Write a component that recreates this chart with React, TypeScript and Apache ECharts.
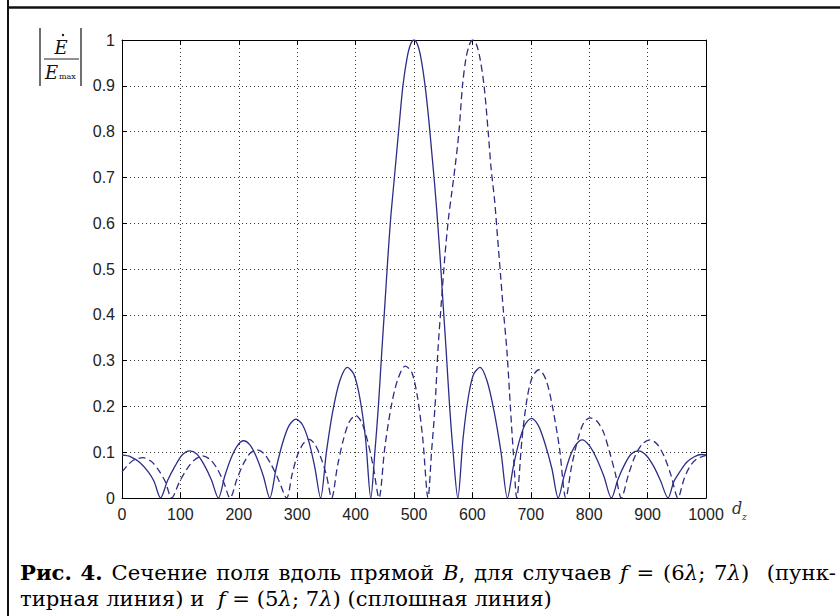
import React, { useEffect, useRef } from "react";
import * as echarts from "echarts";

// x tick values (d_z) and y tick values (|E/Emax|)
const xMin = 0;
const xMax = 1000;
const xStep = 100;
const yMin = 0;
const yMax = 1;
const yStep = 0.1;

// Solid line: f = (5λ; 7λ)
const solidData: [number, number][] = [
  [0, 0.094], [15, 0.09], [30, 0.078], [45, 0.057], [55, 0.036], [66, 0],
  [78, 0.038], [91, 0.07], [103, 0.094], [116, 0.103], [128, 0.096], [140, 0.074], [153, 0.04], [165, 0],
  [176, 0.048], [187, 0.088], [198, 0.115], [208, 0.125], [219, 0.116], [230, 0.09], [242, 0.048], [253, 0],
  [264, 0.065], [275, 0.12], [286, 0.158], [298, 0.172], [309, 0.16], [320, 0.123], [330, 0.068], [340, 0],
  [350, 0.1], [361, 0.19], [373, 0.256], [386, 0.285], [397, 0.27], [407, 0.22], [417, 0.13], [426, 0],
  [433, 0.1], [439, 0.2], [445, 0.323], [450, 0.42], [455, 0.52], [460, 0.61], [465, 0.68], [470, 0.75],
  [475, 0.82], [481, 0.9], [488, 0.96], [494, 0.99], [500, 1], [506, 0.99], [512, 0.96], [519, 0.9],
  [525, 0.83], [530, 0.76], [535, 0.69], [540, 0.61], [545, 0.52], [550, 0.42], [555, 0.323], [561, 0.2],
  [567, 0.1], [575, 0],
  [584, 0.13], [593, 0.22], [602, 0.27], [613, 0.285], [625, 0.256], [637, 0.19], [649, 0.1], [660, 0],
  [670, 0.068], [680, 0.123], [690, 0.16], [701, 0.174], [713, 0.158], [724, 0.12], [736, 0.065], [747, 0],
  [757, 0.048], [767, 0.09], [777, 0.116], [788, 0.127], [800, 0.115], [812, 0.088], [825, 0.048], [838, 0],
  [849, 0.04], [861, 0.074], [872, 0.096], [884, 0.103], [897, 0.094], [910, 0.07], [922, 0.038], [935, 0],
  [945, 0.036], [955, 0.057], [967, 0.078], [980, 0.09], [992, 0.095], [1000, 0.094],
];

// Dashed line: f = (6λ; 7λ)
const dashedData: [number, number][] = [
  [0, 0.057], [10, 0.072], [20, 0.083], [36, 0.088], [50, 0.08], [62, 0.062], [74, 0.036], [85, 0],
  [98, 0.034], [111, 0.063], [124, 0.083], [138, 0.092], [151, 0.084], [163, 0.064], [174, 0.035], [185, 0],
  [197, 0.042], [208, 0.075], [219, 0.097], [231, 0.105], [243, 0.097], [255, 0.074], [268, 0.04], [282, 0],
  [291, 0.05], [300, 0.092], [310, 0.118], [320, 0.128], [330, 0.118], [340, 0.09], [350, 0.05], [359, 0],
  [369, 0.07], [379, 0.127], [389, 0.166], [400, 0.18], [410, 0.166], [420, 0.127], [430, 0.07], [440, 0],
  [450, 0.11], [461, 0.2], [472, 0.258], [485, 0.288], [496, 0.275], [506, 0.22], [515, 0.13], [524, 0],
  [530, 0.1], [536, 0.2], [541, 0.323], [547, 0.43], [553, 0.53], [559, 0.61], [565, 0.67], [571, 0.73],
  [577, 0.8], [583, 0.9], [589, 0.96], [595, 0.99], [601, 1], [607, 0.99], [613, 0.96], [620, 0.9],
  [627, 0.8], [632, 0.72], [638, 0.65], [643, 0.57], [648, 0.49], [653, 0.41], [659, 0.323], [665, 0.2],
  [670, 0.1], [676, 0],
  [685, 0.13], [694, 0.22], [703, 0.265], [714, 0.28], [726, 0.258], [737, 0.2], [749, 0.11], [760, 0],
  [770, 0.07], [781, 0.13], [791, 0.165], [802, 0.175], [813, 0.168], [824, 0.145], [835, 0.1], [845, 0.052], [855, 0],
  [867, 0.05], [879, 0.093], [891, 0.118], [904, 0.127], [916, 0.118], [928, 0.092], [940, 0.05], [952, 0],
  [962, 0.04], [972, 0.068], [984, 0.085], [1000, 0.093],
];

type Seg = [string, "r" | "b" | "i"];
// caption line 1 (justified), as words; gap weights before each word
const captionLine1Words: Seg[][] = [
  [["Рис.", "b"]], [["4.", "b"]], [["Сечение", "r"]], [["поля", "r"]], [["вдоль", "r"]],
  [["прямой", "r"]], [["B", "i"], [",", "r"]], [["для", "r"]], [["случаев", "r"]], [["f", "i"]],
  [["=", "r"]], [["(6", "r"], ["λ", "i"], [";", "r"]], [["7", "r"], ["λ", "i"], [")", "r"]], [["(пунк-", "r"]],
];
const captionLine1Gaps = [0, 1, 1, 1, 1, 1, 1, 1, 1, 1, 1, 1, 1, 2];
// caption line 2 (last line, not justified)
const captionLine2: Seg[] = [
  ["тирная линия) и  ", "r"], ["f", "i"], [" = (5", "r"], ["λ", "i"], ["; 7", "r"], ["λ", "i"],
  [") (сплошная линия)", "r"],
];

const LINE_COLOR = "#2b2d86";
const SANS = "Liberation Sans";
const SERIF = "DejaVu Serif";
const CAP_LEFT = 20;
const CAP_RIGHT = 836;
const LINE2_RIGHT = 552;

const ctx = document.createElement("canvas").getContext("2d")!;
const fontOf = (k: string, size: number) =>
  `${k === "i" ? "italic " : ""}${k === "b" ? "bold " : ""}${size}px ${SERIF}`;
const measure = (segs: Seg[], size: number) =>
  segs.map(([t, k]) => {
    ctx.font = fontOf(k, size);
    return ctx.measureText(t).width;
  });

function textEl(t: string, k: string, size: number, x: number, y: number) {
  return {
    type: "text",
    x,
    y,
    style: { text: t, font: fontOf(k, size), fill: "#000", align: "left", verticalAlign: "middle" },
  };
}

function buildCaption() {
  const w100 = measure(captionLine2, 100).reduce((a, b) => a + b, 0);
  const size = (100 * (LINE2_RIGHT - CAP_LEFT)) / w100;
  const els: any[] = [];
  // line 1, justified
  const wordW = captionLine1Words.map((w) => measure(w, size));
  const natural = wordW.reduce((a, ws) => a + ws.reduce((p, q) => p + q, 0), 0);
  const weights = captionLine1Gaps.reduce((a, b) => a + b, 0);
  const gap = (CAP_RIGHT - CAP_LEFT - natural) / weights;
  let cx = CAP_LEFT;
  captionLine1Words.forEach((word, wi) => {
    cx += captionLine1Gaps[wi] * gap;
    word.forEach(([t, k], si) => {
      els.push(textEl(t, k, size, cx, 572));
      cx += wordW[wi][si];
    });
  });
  // line 2
  const w2 = measure(captionLine2, size);
  cx = CAP_LEFT;
  captionLine2.forEach(([t, k], i) => {
    els.push(textEl(t, k, size, cx, 598));
    cx += w2[i];
  });
  return els;
}

export default function App() {
  const ref = useRef<HTMLDivElement>(null);
  useEffect(() => {
    document.body.style.margin = "0";
    const chart = echarts.init(ref.current!, null, { renderer: "svg" });
    const baseAxis = {
      type: "value" as const,
      axisLine: { show: true, onZero: false, lineStyle: { color: "#000", width: 1 } },
      axisTick: { show: true, inside: true, length: 5, lineStyle: { color: "#000" } },
    };
    chart.setOption({
      animation: false,
      backgroundColor: "#fff",
      grid: { left: 122, top: 40, width: 584, height: 458, show: false },
      xAxis: [
        {
          ...baseAxis,
          min: xMin, max: xMax, interval: xStep, position: "bottom",
          axisLabel: { color: "#222", fontSize: 16, fontFamily: SANS, margin: 8, formatter: (v: number) => String(Math.round(v)) },
          splitLine: { show: true, lineStyle: { type: [1, 3], color: "#333", width: 1 } },
        },
        {
          ...baseAxis,
          min: xMin, max: xMax, interval: xStep, position: "top",
          axisLabel: { show: false }, splitLine: { show: false },
        },
      ],
      yAxis: [
        {
          ...baseAxis,
          min: yMin, max: yMax, interval: yStep, position: "left",
          axisLabel: {
            color: "#222", fontSize: 16, fontFamily: SANS, margin: 7,
            formatter: (v: number) => String(Math.round(v * 10) / 10),
          },
          splitLine: { show: true, lineStyle: { type: [1, 3], color: "#333", width: 1 } },
        },
        {
          ...baseAxis,
          min: yMin, max: yMax, interval: yStep, position: "right",
          axisLabel: { show: false }, splitLine: { show: false },
        },
      ],
      series: [
        {
          type: "line", name: "f = (5λ; 7λ)", data: solidData, showSymbol: false, smooth: 0.3,
          lineStyle: { color: LINE_COLOR, width: 1.3 }, xAxisIndex: 0, yAxisIndex: 0,
        },
        {
          type: "line", name: "f = (6λ; 7λ)", data: dashedData, showSymbol: false, smooth: 0.3,
          lineStyle: { color: LINE_COLOR, width: 1.3, type: [7, 4] }, xAxisIndex: 0, yAxisIndex: 0,
        },
      ],
      graphic: [
        // page frame
        { type: "line", shape: { x1: 8, y1: 0, x2: 8, y2: 616 }, style: { stroke: "#111", lineWidth: 2 } },
        { type: "line", shape: { x1: 7, y1: 7.5, x2: 840, y2: 7.5 }, style: { stroke: "#111", lineWidth: 2.5 } },
        // y-axis label |Ė / E_max|
        { type: "line", shape: { x1: 40, y1: 28, x2: 40, y2: 86 }, style: { stroke: "#222", lineWidth: 1.3 } },
        { type: "line", shape: { x1: 81, y1: 28, x2: 81, y2: 86 }, style: { stroke: "#222", lineWidth: 1.3 } },
        { type: "line", shape: { x1: 44, y1: 59, x2: 79, y2: 59 }, style: { stroke: "#222", lineWidth: 1.2 } },
        { type: "text", x: 61, y: 56, style: { text: "E", font: `italic 18px ${SERIF}`, fill: "#111", align: "center", verticalAlign: "bottom" } },
        { type: "circle", shape: { cx: 63, cy: 35, r: 1.2 }, style: { fill: "#111" } },
        { type: "text", x: 45, y: 81, style: { text: "E", font: `italic 18px ${SERIF}`, fill: "#111", align: "left", verticalAlign: "bottom" } },
        { type: "text", x: 59, y: 80, style: { text: "max", font: `8px ${SERIF}`, fill: "#111", align: "left", verticalAlign: "bottom" } },
        // x-axis label d_z
        { type: "text", x: 732, y: 516, style: { text: "d", font: `italic 16px ${SERIF}`, fill: "#333", align: "left", verticalAlign: "bottom" } },
        { type: "text", x: 742, y: 521, style: { text: "z", font: `italic 9px ${SERIF}`, fill: "#333", align: "left", verticalAlign: "bottom" } },
        // caption
        ...buildCaption(),
      ],
    });
    return () => chart.dispose();
  }, []);
  return <div ref={ref} style={{ width: 840, height: 616, background: "#fff" }} />;
}
